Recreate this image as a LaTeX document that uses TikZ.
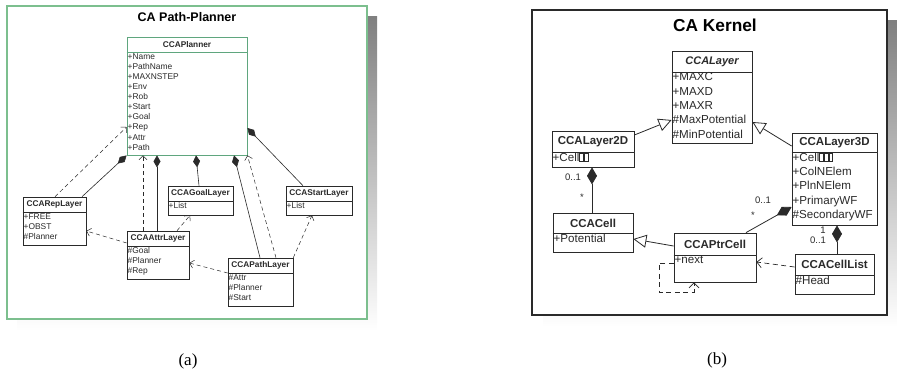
\documentclass[tikz,border=0pt]{standalone}
\usepackage{fontspec}
\setmainfont{Liberation Serif}
\newfontfamily\arial{Liberation Sans}
\usetikzlibrary{arrows.meta,fit}
\definecolor{frgreen}{HTML}{7CBF8E}
\definecolor{plgreen}{HTML}{5FA67E}
\definecolor{ink}{HTML}{2A2A2A}
\definecolor{shade}{HTML}{CBCBCB}
\newcommand\gbx{{\setlength\fboxsep{0pt}\setlength\fboxrule{0.4pt}\fbox{\rule{0pt}{0.7em}\hspace{0.28em}}}\kern0.6pt}
% #1 name #2 x1 #3 y1 #4 x2 #5 yh #6 y2 #7 style prefix #8 title #9 attrs
\newcommand\umlcls[9]{%
  \node[#7box, fit={(#2,#3)(#4,#6)}, inner sep=0pt] (#1) {};
  \draw[#7box] (#1.west |- 0,#5) -- (#1.east |- 0,#5);
  \node[#7title] (#1-t) at ({(#2+#4)/2},{(#3+#5)/2}) {#8};
  \node[#7attr, anchor=north west] (#1-a) at (#2,#5) {#9};
}
\tikzset{
  Abox/.style={draw=ink, line width=0.6pt, fill=white},
  Atitle/.style={font=\arial\bfseries\fontsize{8.3}{9}\selectfont, text=ink, inner sep=0pt},
  Aattr/.style={font=\arial\fontsize{8.4}{10.1}\selectfont, text=ink, align=left, inner xsep=0.5pt, inner ysep=1.3pt},
  Pbox/.style={draw=plgreen, line width=0.8pt, fill=white},
  Ptitle/.style={Atitle},
  Pattr/.style={Aattr},
  Bbox/.style={draw=ink, line width=0.8pt, fill=white},
  Btitle/.style={font=\arial\bfseries\fontsize{11.5}{12}\selectfont, text=ink, inner sep=0pt},
  BItitle/.style={font=\arial\bfseries\itshape\fontsize{11}{12}\selectfont, text=ink, inner sep=0pt},
  Battr/.style={font=\arial\fontsize{11.6}{14.3}\selectfont, text=ink, align=left, inner xsep=0.5pt, inner ysep=0.6pt},
  BIbox/.style={Bbox}, BIattr/.style={Battr},
  depA/.style={draw=ink, line width=0.5pt, dash pattern=on 4pt off 3pt, -{Straight Barb[length=4pt,width=8pt]}},
  compA/.style={draw=ink, line width=0.6pt, {Diamond[length=12pt,width=7pt,fill=ink]}-},
  depB/.style={draw=ink, line width=0.7pt, dash pattern=on 5pt off 3.5pt, -{Straight Barb[length=5pt,width=10pt]}},
  compB/.style={draw=ink, line width=0.8pt, {Diamond[length=17pt,width=10pt,fill=ink]}-},
  genB/.style={draw=ink, line width=0.8pt, -{Triangle[open,length=13pt,width=13pt,fill=white]}},
  mult/.style={font=\arial\fontsize{9.5}{10}\selectfont, text=ink, inner sep=0pt},
  frametitle/.style={font=\arial\bfseries, text=black, inner sep=0pt},
  caption/.style={font=\fontsize{17}{19}\selectfont, inner sep=0pt}
}
\begin{document}
\begin{tikzpicture}[x=1pt,y=-1pt]
\useasboundingbox (0,0) rectangle (897,376);
% ---------------- panel (a)
\fill[shade] (17,16) rectangle (377,331);
\node[draw=frgreen, line width=1.2pt, fill=white, fit={(7,6)(367,319)}, inner sep=0pt] (frameA) {};
\node[frametitle, font=\arial\bfseries\fontsize{12.5}{14}\selectfont] (titleA) at (187,17) {CA Path-Planner};
\node[caption] (capA) at (188,361) {(a)};

\umlcls{planner}{127}{37}{247}{52}{155}{P}{CCAPlanner}{+Name\\+PathName\\+MAXNSTEP\\+Env\\+Rob\\+Start\\+Goal\\+Rep\\+Attr\\+Path}
\umlcls{rep}{23}{197}{86}{212}{245}{A}{CCARepLayer}{+FREE\\+OBST\\\#Planner}
\umlcls{attr}{127}{231}{189}{246}{279}{A}{CCAAttrLayer}{\#Goal\\\#Planner\\\#Rep}
\umlcls{goal}{168}{186}{233}{201}{215}{A}{CCAGoalLayer}{+List}
\umlcls{start}{286}{186}{352}{201}{215}{A}{CCAStartLayer}{+List}
\umlcls{path}{228}{258}{293}{273}{306}{A}{CCAPathLayer}{\#Attr\\\#Planner\\\#Start}

\draw[depA] (rep.north -| 55,0) -- (planner.west |- 0,127);
\draw[compA] (planner.south west) -- (rep.north -| 82,0);
\draw[depA] (attr.north -| 143,0) -- (planner.south -| 143,0);
\draw[compA] (planner.south -| 157,0) -- (attr.north -| 157,0);
\draw[compA] (planner.south -| 196,0) -- (goal.north -| 199,0);
\draw[compA] (planner.south -| 234,0) -- (path.north -| 260,0);
\draw[depA] (path.north -| 276,0) -- (planner.south east);
\draw[compA] (planner.east |- 0,128) -- (start.north -| 303,0);
\draw[depA] (attr.west |- 0,243) -- (rep.east |- 0,231);
\draw[depA] (attr.north -| 177,0) -- (goal.south -| 190,0);
\draw[depA] (path.west |- 0,273) -- (attr.east |- 0,263);
\draw[depA] (path.north east) -- (start.south -| 312,0);

% ---------------- panel (b)
\fill[shade] (543,20) rectangle (897,327);
\node[draw=ink, line width=1.5pt, fill=white, fit={(532,10)(887,315)}, inner sep=0pt] (frameB) {};
\node[frametitle, font=\arial\bfseries\fontsize{17.3}{19}\selectfont] (titleB) at (715,25) {CA Kernel};
\node[caption] (capB) at (717,360) {(b)};

\umlcls{layer}{672}{51}{752}{72}{143}{BI}{CCALayer}{+MAXC\\+MAXD\\+MAXR\\\#MaxPotential\\\#MinPotential}
\umlcls{ltwo}{552}{131}{634}{152}{167}{B}{CCALayer2D}{+Cell\gbx\gbx}
\umlcls{lthree}{792}{133}{877}{152}{225}{B}{CCALayer3D}{+Cell\gbx\gbx\gbx\\+ColNElem\\+PlnNElem\\+PrimaryWF\\\#SecondaryWF}
\umlcls{cell}{553}{213}{633}{233}{252}{B}{CCACell}{+Potential}
\umlcls{ptr}{674}{233}{756}{255}{282}{B}{CCAPtrCell}{+next}
\umlcls{clist}{795}{254}{874}{275}{294}{B}{CCACellList}{\#Head}

\draw[genB] (ltwo.east |- 0,135) -- (layer.west |- 0,120);
\draw[genB] (lthree.west |- 0,146) -- (layer.east |- 0,122);
\draw[compB] (ltwo.south -| 592,0) -- (cell.north -| 592,0);
\node[mult] (m1) at (573,177) {0..1};
\node[mult] (m2) at (582,197) {*};
\draw[genB] (ptr.west |- 0,246) -- (cell.east |- 0,239);
\draw[compB] (lthree.west |- 0,207) -- (ptr.north -| 746,0);
\node[mult] (m3) at (763,200) {0..1};
\node[mult] (m4) at (753,215) {*};
\draw[compB] (lthree.south -| 837,0) -- (clist.north -| 837,0);
\node[mult] (m5) at (823,230) {1};
\node[mult] (m6) at (818,240) {0..1};
\draw[depB] (clist.west |- 0,267) -- (ptr.east |- 0,262);
\draw[depB] (ptr.west |- 0,263) -| (659,292) -| (ptr.south -| 694,0);
\end{tikzpicture}
\end{document}
